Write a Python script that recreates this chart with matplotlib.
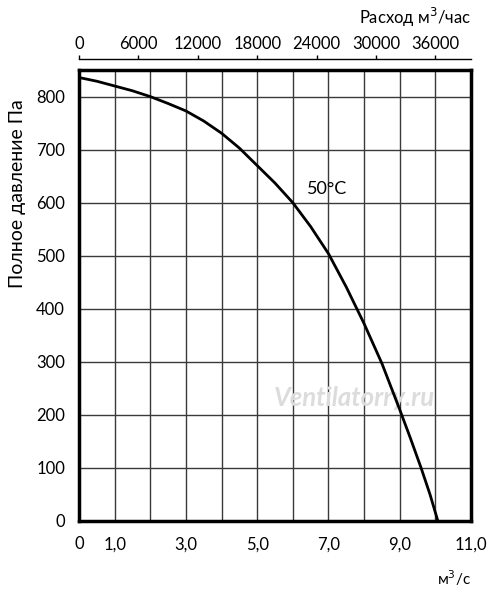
import matplotlib
matplotlib.use("Agg")
import matplotlib.pyplot as plt

# fan curve, 50 C, flow in m3/s vs total pressure Pa
flow = [0, 0.5, 1, 1.5, 2, 2.5, 3, 3.5, 4, 4.5, 5, 5.5, 6, 6.5, 7, 7.5, 8, 8.5, 9, 9.3, 9.6, 9.85, 10.07]
pressure = [836, 829, 820, 811, 800, 787, 773, 754, 731, 703, 670, 637, 600, 555, 504, 441, 372, 297, 210, 156, 100, 50, 0]

xticks = [0, 1, 3, 5, 7, 9, 11]
xticklabels = ["0", "1,0", "3,0", "5,0", "7,0", "9,0", "11,0"]
yticks = [0, 100, 200, 300, 400, 500, 600, 700, 800]
topticks = [0, 6000, 12000, 18000, 24000, 30000, 36000]

plt.rcParams['font.family'] = ['Lato', 'DejaVu Sans']

fig = plt.figure(figsize=(5, 5.98), dpi=100)
ax = fig.add_axes([0.158, 0.1288, 0.784, 0.754])

ax.set_xlim(0, 11)
ax.set_ylim(0, 850)

# grid
for gx in range(1, 11):
    ax.axvline(gx, color="#3a3a3a", lw=1.0, zorder=1)
for gy in yticks[1:]:
    ax.axhline(gy, color="#3a3a3a", lw=1.0, zorder=1)

ax.plot(flow, pressure, color="black", lw=2.0, zorder=3)

ax.text(6.97, 625, "50°C", fontsize=13, ha="center", va="center")
ax.text(7.72, 232, "Ventilatorry.ru", fontsize=18.5, style="italic", fontweight="bold",
        color="#dcdcdc", ha="center", va="center", zorder=2)

for s in ax.spines.values():
    s.set_linewidth(2.5)

ax.set_xticks(xticks)
ax.set_xticklabels(xticklabels)
ax.set_yticks(yticks)
ax.tick_params(axis="y", length=0, labelsize=12, pad=10)
ax.tick_params(axis="x", length=0, labelsize=12, pad=11)

ax.set_ylabel("Полное давление Па", fontsize=14)
ax.yaxis.set_label_coords(-0.135, 0.727)
fig.text(0.942, 0.033, "м$^3$/с", fontsize=11, ha="right", va="center")

# top axis in m3/h
top = ax.secondary_xaxis("top", functions=(lambda v: v * 3600, lambda v: v / 3600))
top.set_xticks(topticks)
top.spines["top"].set_position(("outward", 8))
top.spines["top"].set_linewidth(1.0)
top.tick_params(axis="x", length=3, width=1, labelsize=12, pad=2)
fig.text(0.942, 0.97, "Расход м$^3$/час", fontsize=12, ha="right", va="center")

fig.savefig("out.png", dpi=100)
